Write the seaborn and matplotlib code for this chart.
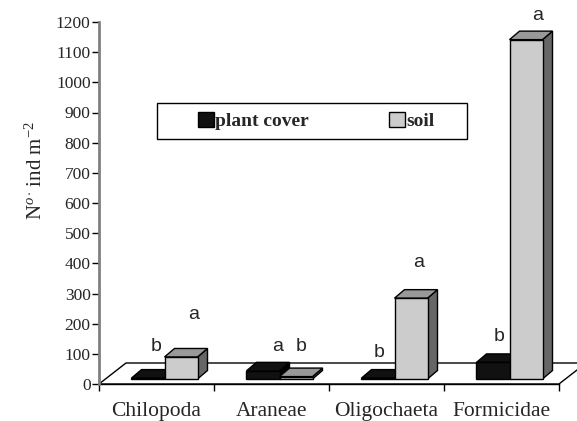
import matplotlib
matplotlib.use("Agg")
import matplotlib.pyplot as plt
import seaborn as sns
import pandas as pd
from matplotlib.patches import Polygon, Rectangle
from matplotlib.transforms import Affine2D, IdentityTransform

# ---------------- data ----------------
categories = ["Chilopoda", "Araneae", "Oligochaeta", "Formicidae"]
plant_cover = [3, 27, 3, 55]
soil = [73, 8, 268, 1125]
plant_letters = ["b", "a", "b", "b"]
soil_letters = ["a", "b", "a", "a"]
yticks = list(range(0, 1201, 100))
series_names = ["plant cover", "soil"]

# ---------------- layout ----------------
W, H = 577, 421
DPI = 100
BAR_SHIFT = (8, 5)       # px, bars sit slightly into the depth
TOP_DEPTH = (10, 8.5)    # px, depth of each 3D bar
FLOOR_DEPTH = (27, 21)   # px, depth of the floor
plant_letter_pos = [(0.00, 123), (1.05, 123), (1.94, 106), (2.98, 156)]
soil_letter_pos = [(0.32, 229), (1.26, 123), (2.28, 404), (3.31, 1221)]

colors = {"plant cover": "#111111", "soil": "#cccccc"}
top_colors = {"plant cover": "#111111", "soil": "#999999"}
side_colors = {"plant cover": "#000000", "soil": "#666666"}

sns.set_theme(style="white")
plt.rcParams["font.family"] = ["Liberation Serif", "DejaVu Serif"]
plt.rcParams["mathtext.fontset"] = "custom"
plt.rcParams["mathtext.rm"] = "Liberation Serif"
plt.rcParams["mathtext.it"] = "Liberation Serif:italic"

df = pd.DataFrame({
    "category": categories * 2,
    "value": plant_cover + soil,
    "group": [series_names[0]] * len(categories) + [series_names[1]] * len(categories),
})

fig = plt.figure(figsize=(W / DPI, H / DPI), dpi=DPI)
fig.patch.set_facecolor("white")
ax = fig.add_axes([99 / W, (H - 384) / H, 460 / W, 362 / H])
ax.set_facecolor("none")

sns.barplot(data=df, x="category", y="value", hue="group", order=categories,
            hue_order=series_names, palette=colors, width=0.574, gap=0,
            edgecolor="black", linewidth=1, saturation=1, ax=ax, legend=True,
            zorder=3)
bars = sorted([p for p in ax.patches if isinstance(p, Rectangle)], key=lambda p: p.get_x())

ax.set_xlim(-0.5, len(categories) - 0.5)
ax.set_ylim(0, 1200)
ax.set_autoscale_on(False)
fig.canvas.draw()

# floor
tr = ax.transData
fl = tr.transform((-0.5, 0))
fr = tr.transform((len(categories) - 0.5, 0))
floor = [fl, fl + FLOOR_DEPTH, fr + FLOOR_DEPTH, fr]
ax.add_patch(Polygon(floor, closed=True, facecolor="white", edgecolor="black",
                     linewidth=1, transform=IdentityTransform(), zorder=0.5,
                     clip_on=False))

# 3D bars
shift = Affine2D().translate(*BAR_SHIFT)
dx, dy = TOP_DEPTH
for i, p in enumerate(bars):
    grp = series_names[0] if p.get_facecolor()[0] < 0.5 else series_names[1]
    x0, y0 = p.get_x(), p.get_y()
    x1, y1 = x0 + p.get_width(), y0 + p.get_height()
    (X0, Y0), (X1, Y1) = tr.transform([(x0, y0), (x1, y1)])
    X0 += BAR_SHIFT[0]; X1 += BAR_SHIFT[0]
    Y0 += BAR_SHIFT[1]; Y1 += BAR_SHIFT[1]
    z = 2 + i * 0.1
    p.set_transform(tr + shift)
    p.set_zorder(z + 0.05)
    p.set_clip_on(False)
    top = [(X0, Y1), (X0 + dx, Y1 + dy), (X1 + dx, Y1 + dy), (X1, Y1)]
    side = [(X1, Y0), (X1, Y1), (X1 + dx, Y1 + dy), (X1 + dx, Y0 + dy)]
    ax.add_patch(Polygon(side, closed=True, facecolor=side_colors[grp], edgecolor="black",
                         linewidth=1, transform=IdentityTransform(), zorder=z, clip_on=False))
    ax.add_patch(Polygon(top, closed=True, facecolor=top_colors[grp], edgecolor="black",
                         linewidth=1, transform=IdentityTransform(), zorder=z, clip_on=False))

# significance letters
for (x, y), t in zip(plant_letter_pos, plant_letters):
    ax.text(x, y, t, ha="center", va="center", fontsize=14,
            family=["Liberation Sans", "DejaVu Sans"], zorder=5, clip_on=False)
for (x, y), t in zip(soil_letter_pos, soil_letters):
    ax.text(x, y, t, ha="center", va="center", fontsize=14,
            family=["Liberation Sans", "DejaVu Sans"], zorder=5, clip_on=False)

# axes styling
for s in ["top", "right"]:
    ax.spines[s].set_visible(False)
ax.spines["left"].set_color("#808080")
ax.spines["left"].set_linewidth(2)
ax.spines["bottom"].set_color("black")
ax.spines["bottom"].set_linewidth(1)
ax.spines["left"].set_zorder(6)
ax.spines["bottom"].set_zorder(1)

ax.set_yticks(yticks)
ax.set_yticklabels([str(v) for v in yticks], fontsize=12.5)
ax.tick_params(axis="y", length=7 * 72 / DPI, width=1, color="black", pad=1,
               direction="out", left=True)
ax.set_xticks([i - 0.5 for i in range(len(categories) + 1)])
ax.set_xticklabels([""] * (len(categories) + 1))
ax.set_xticks(range(len(categories)), minor=True)
ax.set_xticklabels(categories, minor=True, fontsize=15.5)
ax.tick_params(axis="x", which="major", length=5, width=1, color="black",
               direction="out", bottom=True)
ax.tick_params(axis="x", which="minor", length=0, pad=13)
ax.set_xlabel("")
ax.set_ylabel("N$^{o\\cdot}\\,$ind m$^{-2}$", fontsize=15)
ax.yaxis.set_label_coords(-(99 - 47) / 460, (384 - 171) / 362)

# legend
leg = ax.get_legend()
handles = leg.legend_handles
leg.remove()
fig.add_artist(Rectangle((157 / W, (H - 139) / H), (467 - 157) / W, 36 / H,
                         transform=fig.transFigure, facecolor="white",
                         edgecolor="black", linewidth=1, zorder=4))
lg = fig.legend(handles, series_names, loc="center",
                bbox_to_anchor=(316 / W, (H - 121) / H), ncol=2, frameon=False,
                prop={"weight": "bold", "size": 14, "family": "Liberation Serif"},
                handlelength=0.85, handleheight=0.85, handletextpad=0.05,
                columnspacing=4.1, borderpad=0)
lg.set_zorder(5)
for h in lg.legend_handles:
    h.set_edgecolor("black")
    h.set_linewidth(1)

fig.savefig("out.png", dpi=DPI)
